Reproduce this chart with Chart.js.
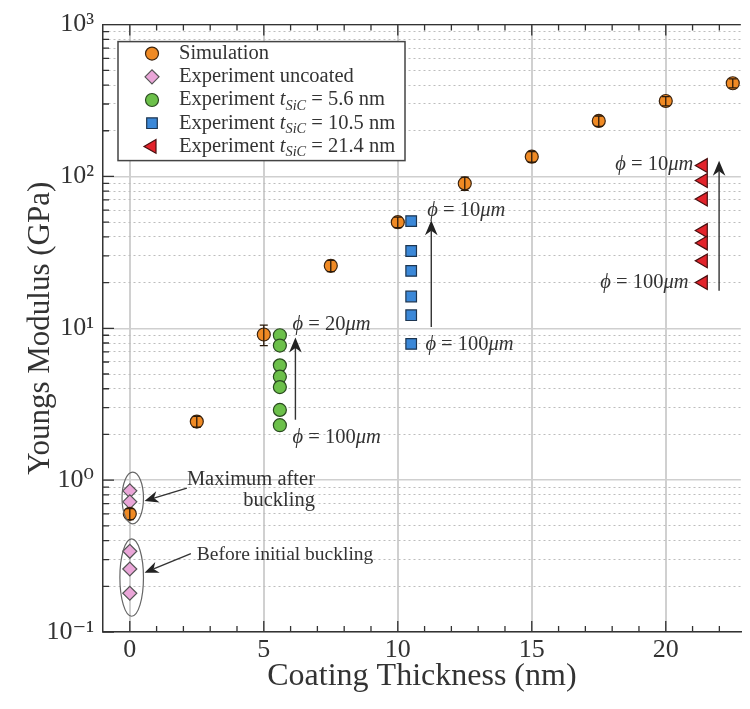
<!DOCTYPE html>
<html>
<head>
<meta charset="utf-8">
<script src="https://cdn.jsdelivr.net/npm/chart.js@4.4.1/dist/chart.umd.min.js"></script>
<style>
  html, body { margin: 0; padding: 0; background: #fff; }
</style>
</head>
<body>
<canvas id="chart" width="750" height="709"></canvas>
<script>
const serif = "'Liberation Serif', 'DejaVu Serif', serif";

// simulation (orange), with error bars
const simX = [0, 2.5, 5, 7.5, 10, 12.5, 15, 17.5, 20, 22.5];
const simY = [0.6, 2.43, 9.1, 25.8, 50, 90, 135, 232, 314, 411];
const simErr = [0.05, 0.2, 1.4, 2.2, 4, 9, 11, 18, 22, 28];

// experiments
const uncoatedY = [0.85, 0.72, 0.34, 0.26, 0.18];   // at 0 nm
const exp56Y = [9.0, 7.7, 5.7, 4.8, 4.1, 2.9, 2.3];  // at 5.6 nm
const exp105Y = [50.8, 32.3, 23.9, 16.2, 12.2, 7.9]; // at 10.5 nm
const exp214Y = [118, 94, 71, 44, 36.5, 27.8, 20];   // at 21.4 nm

const seriesLabels = [
    "Simulation",
    "Experiment uncoated",
    "Experiment t_{SiC} = 5.6 nm",
    "Experiment t_{SiC} = 10.5 nm",
    "Experiment t_{SiC} = 21.4 nm"
];

const xTicks = [0, 5, 10, 15, 20];
const yDecades = [0.1, 1, 10, 100, 1000];
const yTickLabels = ["10⁻¹", "10⁰", "10¹", "10²", "10³"];

// annotations (data coordinates)
const phiLabels = [
    { x: 6.07, y: 10.5, val: "20", align: "left" },
    { x: 6.07, y: 1.91, val: "100", align: "left" },
    { x: 11.1, y: 60, val: "10", align: "left" },
    { x: 11.03, y: 7.85, val: "100", align: "left" },
    { x: 21.03, y: 120, val: "10", align: "right" },
    { x: 20.85, y: 20, val: "100", align: "right" }
];
const phiArrows = [
    { x: 6.18, from: 2.5, to: 8.7 },
    { x: 11.25, from: 10.2, to: 51.5 },
    { x: 21.99, from: 17.7, to: 127 }
];

const pts = (x, ys) => ys.map(v => ({ x: x, y: v }));
const isDecade = v => Math.abs(Math.log10(v) - Math.round(Math.log10(v))) < 1e-6;

function richText(ctx, parts, x, y, size, align) {
    const fontOf = p => (p.it ? "italic " : "") + (p.sub ? size * 0.7 : size) + "px " + serif;
    let w = 0;
    parts.forEach(p => { ctx.font = fontOf(p); w += ctx.measureText(p.t).width; });
    let cx = align === "right" ? x - w : (align === "center" ? x - w / 2 : x);
    ctx.textAlign = "left";
    ctx.textBaseline = "middle";
    parts.forEach(p => {
        ctx.font = fontOf(p);
        ctx.fillText(p.t, cx, y + (p.sub ? size * 0.28 : 0));
        cx += ctx.measureText(p.t).width;
    });
}

function parseLabel(s) {
    const m = s.match(/^(.*?)(\w)_\{(\w+)\}(.*)$/);
    if (!m) return [{ t: s }];
    return [{ t: m[1] }, { t: m[2], it: true }, { t: m[3], it: true, sub: true }, { t: m[4] }];
}

function arrowTo(ctx, x1, y1, x2, y2, head) {
    const ang = Math.atan2(y2 - y1, x2 - x1);
    ctx.beginPath();
    ctx.moveTo(x1, y1);
    ctx.lineTo(x2 - Math.cos(ang) * head * 0.7, y2 - Math.sin(ang) * head * 0.7);
    ctx.stroke();
    ctx.save();
    ctx.translate(x2, y2);
    ctx.rotate(ang);
    ctx.beginPath();
    ctx.moveTo(0, 0);
    ctx.lineTo(-head, -head * 0.42);
    ctx.lineTo(-head * 0.7, 0);
    ctx.lineTo(-head, head * 0.42);
    ctx.closePath();
    ctx.fill();
    ctx.restore();
}

const decor = {
    id: "decor",
    afterDatasetsDraw(chart) {
        const { ctx, chartArea: a, scales: { x, y } } = chart;
        const X = v => x.getPixelForValue(v);
        const Y = v => y.getPixelForValue(v);
        ctx.save();

        // error bars on simulation points
        ctx.strokeStyle = "#2b1a0a";
        ctx.lineWidth = 1.3;
        simX.forEach((v, i) => {
            const px = X(v), y1 = Y(simY[i] - simErr[i]), y2 = Y(simY[i] + simErr[i]);
            ctx.beginPath();
            ctx.moveTo(px, y1); ctx.lineTo(px, y2);
            ctx.moveTo(px - 4, y1); ctx.lineTo(px + 4, y1);
            ctx.moveTo(px - 4, y2); ctx.lineTo(px + 4, y2);
            ctx.stroke();
        });

        // ellipses around uncoated points
        ctx.strokeStyle = "#666";
        ctx.lineWidth = 1.2;
        [[-0.29, 0.51, 1.13, 0.515], [-0.37, 0.51, 0.41, 0.127]].forEach(e => {
            const x1 = X(e[0]), x2 = X(e[1]), y1 = Y(e[2]), y2 = Y(e[3]);
            ctx.beginPath();
            ctx.ellipse((x1 + x2) / 2, (y1 + y2) / 2, (x2 - x1) / 2, (y2 - y1) / 2, 0, 0, Math.PI * 2);
            ctx.stroke();
        });

        // arrows
        ctx.strokeStyle = "#333";
        ctx.fillStyle = "#222";
        ctx.lineWidth = 1.4;
        phiArrows.forEach(ar => arrowTo(ctx, X(ar.x), Y(ar.from), X(ar.x), Y(ar.to), 15));
        arrowTo(ctx, X(2.13), Y(0.887), X(0.55), Y(0.73), 14);
        arrowTo(ctx, X(2.28), Y(0.328), X(0.55), Y(0.246), 14);

        // text annotations
        ctx.fillStyle = "#333";
        phiLabels.forEach(p => {
            richText(ctx, [{ t: "ϕ", it: true }, { t: " = " + p.val }, { t: "μm", it: true }], X(p.x), Y(p.y), 20.5, p.align);
        });
        richText(ctx, [{ t: "Maximum after" }], X(6.91), Y(1.015), 20.5, "right");
        richText(ctx, [{ t: "buckling" }], X(6.91), Y(0.73), 20.5, "right");
        richText(ctx, [{ t: "Before initial buckling" }], X(2.5), Y(0.32), 19.5, "left");

        // inward ticks + top border
        ctx.strokeStyle = "#333";
        ctx.lineWidth = 1.3;
        ctx.beginPath();
        ctx.moveTo(a.left, a.top); ctx.lineTo(a.right, a.top);
        y.ticks.forEach(t => {
            const py = Y(t.value), len = isDecade(t.value) ? 11 : 6;
            ctx.moveTo(a.left, py); ctx.lineTo(a.left + len, py);
        });
        for (let v = 0; v <= 22; v++) {
            const px = X(v), len = v % 5 === 0 ? 11 : 6;
            ctx.moveTo(px, a.bottom); ctx.lineTo(px, a.bottom - len);
            ctx.moveTo(px, a.top); ctx.lineTo(px, a.top + len);
        }
        ctx.stroke();

        // legend
        const L = { x: a.left + 15, y: a.top + 17, w: 287, h: 119 };
        ctx.fillStyle = "#fff";
        ctx.fillRect(L.x, L.y, L.w, L.h);
        ctx.strokeStyle = "#444";
        ctx.lineWidth = 1.5;
        ctx.strokeRect(L.x, L.y, L.w, L.h);
        chart.data.datasets.forEach((ds, i) => {
            const cy = L.y + 12 + i * 23.2;
            ctx.fillStyle = ds.backgroundColor;
            ctx.strokeStyle = ds.borderColor;
            ctx.lineWidth = ds.borderWidth;
            Chart.helpers.drawPoint(ctx, {
                pointStyle: ds.pointStyle, rotation: ds.rotation || 0,
                radius: ds.pointRadius, borderWidth: ds.borderWidth
            }, L.x + 34, cy);
            ctx.fillStyle = "#333";
            richText(ctx, parseLabel(ds.label), L.x + 61, cy, 20.5, "left");
        });

        ctx.restore();
    }
};

new Chart(document.getElementById("chart"), {
    type: "scatter",
    data: {
        datasets: [
            { label: seriesLabels[0], data: simX.map((v, i) => ({ x: v, y: simY[i] })),
              pointStyle: "circle", pointRadius: 6.5, backgroundColor: "#f08a24", borderColor: "#3b2410", borderWidth: 1.2 },
            { label: seriesLabels[1], data: pts(0, uncoatedY),
              pointStyle: "rectRot", pointRadius: 7, backgroundColor: "#eaa6d8", borderColor: "#555", borderWidth: 1.2 },
            { label: seriesLabels[2], data: pts(5.6, exp56Y),
              pointStyle: "circle", pointRadius: 6.5, backgroundColor: "#6cc04a", borderColor: "#2a4a20", borderWidth: 1.2 },
            { label: seriesLabels[3], data: pts(10.5, exp105Y),
              pointStyle: "rect", pointRadius: 7.5, backgroundColor: "#3b88d8", borderColor: "#1d3550", borderWidth: 1.2 },
            { label: seriesLabels[4], data: pts(21.4, exp214Y),
              pointStyle: "triangle", rotation: -90, pointRadius: 8, backgroundColor: "#e3232b", borderColor: "#4a1010", borderWidth: 1.2 }
        ]
    },
    options: {
        responsive: false,
        animation: false,
        layout: { padding: { top: 20, right: 0, left: 0, bottom: 0 } },
        plugins: { legend: { display: false }, tooltip: { enabled: false } },
        scales: {
            x: {
                type: "linear",
                min: -1,
                max: 22.8,
                afterFit(s) { s.height = 77; },
                afterBuildTicks(s) {
                    const t = [];
                    for (let v = -1; v <= 22; v++) t.push({ value: v });
                    s.ticks = t;
                },
                ticks: {
                    autoSkip: false, maxRotation: 0, padding: 3, color: "#333",
                    font: { family: serif, size: 26 },
                    callback: v => xTicks.includes(v) ? String(v) : ""
                },
                grid: {
                    drawTicks: false, lineWidth: 2,
                    color: c => (c.tick && xTicks.includes(c.tick.value)) ? "#d0d0d0" : "rgba(0,0,0,0)"
                },
                border: { color: "#333", width: 1.5 },
                title: {
                    display: true, text: "Coating Thickness (nm)", color: "#333",
                    font: { family: serif, size: 32 }, padding: { bottom: 13, top: 0 }
                }
            },
            y: {
                type: "logarithmic",
                min: 0.1,
                max: 1000,
                afterFit(s) { s.width = 103; },
                afterBuildTicks(s) {
                    const t = [];
                    for (let d = -1; d < 3; d++)
                        for (let m = 1; m < 10; m++) t.push({ value: +(m * Math.pow(10, d)).toPrecision(3) });
                    t.push({ value: 1000 });
                    s.ticks = t;
                },
                ticks: {
                    autoSkip: false, padding: 9, color: "#333",
                    font: { family: serif, size: 26 },
                    callback: v => {
                        const i = yDecades.findIndex(d => Math.abs(d - v) < d * 1e-6);
                        return i >= 0 ? yTickLabels[i] : "";
                    }
                },
                grid: {
                    drawTicks: false,
                    color: c => (c.tick && !isDecade(c.tick.value)) ? "#bdbdbd" : "#cfcfcf",
                    lineWidth: c => (c.tick && !isDecade(c.tick.value)) ? 1 : 1.5
                },
                border: {
                    color: "#333", width: 1.5,
                    dash: c => (c.tick && !isDecade(c.tick.value)) ? [2, 3] : []
                },
                title: {
                    display: true, text: "Youngs Modulus (GPa)", color: "#333",
                    font: { family: serif, size: 31 }, padding: { top: 22, bottom: 0 }
                }
            }
        }
    },
    plugins: [decor]
});
</script>
</body>
</html>
